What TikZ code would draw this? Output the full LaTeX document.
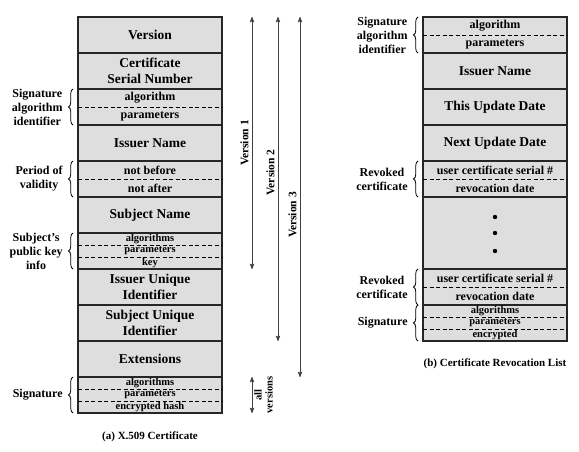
\documentclass[tikz,border=0pt]{standalone}
\usepackage{fontspec}
\setmainfont{Liberation Serif}
\usetikzlibrary{positioning, calc, arrows, decorations.pathreplacing}
\tikzset{
    field/.style={draw=black!85, line width=1.1pt, fill=black!13, minimum width=144pt, minimum height=36pt, inner sep=0pt, outer sep=0pt, align=center, font=\fontsize{13.5}{16.5}\selectfont\bfseries}, % every box of a column
    subfield/.style={inner sep=0pt, font=\fontsize{12}{13}\selectfont\bfseries},
    tinyfield/.style={inner sep=0pt, font=\fontsize{10.5}{11}\selectfont\bfseries},
    split/.style={dash pattern=on 4pt off 2.5pt, line width=0.8pt},
    curly/.style={decorate, decoration={brace, amplitude=4.5pt}, line width=0.8pt},
    bracetext/.style={left, align=center, inner sep=3pt, xshift=-7pt, font=\fontsize{12}{14}\selectfont\bfseries},
    span/.style={<->, >=stealth', line width=0.9pt, draw=black!75},
    spantext/.style={rotate=90, inner sep=3pt, font=\fontsize{11.5}{12}\selectfont\bfseries},
    caption/.style={inner sep=0pt, font=\fontsize{11}{12}\selectfont\bfseries}
}

\begin{document}
\begin{tikzpicture}[x=1pt, y=-1pt]
		\useasboundingbox (0,0) rectangle (579,452);
		
		% (a) certificate
		\node[field] (ver) at (150,35) {Version};
		\node[field, below=0pt of ver] (csn) {Certificate\\Serial Number};
		\node[field, below=0pt of csn] (sa) {};
		\node[field, below=0pt of sa] (iss) {Issuer Name};
		\node[field, below=0pt of iss] (pv) {};
		\node[field, below=0pt of pv] (subj) {Subject Name};
		\node[field, below=0pt of subj] (pk) {};
		\node[field, below=0pt of pk] (iuid) {Issuer Unique\\Identifier};
		\node[field, below=0pt of iuid] (suid) {Subject Unique\\Identifier};
		\node[field, below=0pt of suid] (ext) {Extensions};
		\node[field, below=0pt of ext] (sig) {};
		\node[caption, below=19pt of sig] (capa) {(a) X.509 Certificate};
		
		% (b) revocation list
		\node[field] (rsa) at (495,35) {};
		\node[field, below=0pt of rsa] (riss) {Issuer Name};
		\node[field, below=0pt of riss] (tud) {This Update Date};
		\node[field, below=0pt of tud] (nud) {Next Update Date};
		\node[field, below=0pt of nud] (rc1) {};
		\node[field, below=0pt of rc1, minimum height=72pt] (more) {};
		\node[field, below=0pt of more] (rc2) {};
		\node[field, below=0pt of rc2] (rsig) {};
		\node[caption, below=18pt of rsig] (capb) {(b) Certificate Revocation List};
		
		% two part boxes
		\foreach \f/\top/\bot in {sa/algorithm/parameters, pv/not before/not after, rsa/algorithm/parameters, rc1/user certificate serial \#/revocation date, rc2/user certificate serial \#/revocation date} {
			\draw[split] (\f.west) -- (\f.east);
			\node[subfield] at ($(\f.north)!.25!(\f.south)$) {\top};
			\node[subfield] at ($(\f.north)!.75!(\f.south)$) {\bot};
		}
		
		% three part boxes
		\foreach \f/\one/\two/\three in {pk/algorithms/parameters/key, sig/algorithms/parameters/encrypted hash, rsig/algorithms/parameters/encrypted} {
			\draw[split] ($(\f.north west)!1/3!(\f.south west)$) -- ($(\f.north east)!1/3!(\f.south east)$);
			\draw[split] ($(\f.north west)!2/3!(\f.south west)$) -- ($(\f.north east)!2/3!(\f.south east)$);
			\node[tinyfield] at ($(\f.north)!1/6!(\f.south)$) {\one};
			\node[tinyfield] at ($(\f.north)!3/6!(\f.south)$) {\two};
			\node[tinyfield] at ($(\f.north)!5/6!(\f.south)$) {\three};
		}
		
		% dots
		\fill (more.center) circle (2.2pt);
		\fill ($(more.center)+(0,-16)$) circle (2.2pt);
		\fill ($(more.center)+(0,18)$) circle (2.2pt);
		
		% braces
		\draw[curly] ([xshift=-5pt]sa.south west) -- ([xshift=-5pt]sa.north west) node[midway, bracetext] {Signature\\algorithm\\identifier};
		\draw[curly] ([xshift=-5pt]pv.south west) -- ([xshift=-5pt]pv.north west) node[midway, bracetext] {Period of\\validity};
		\draw[curly] ([xshift=-5pt]pk.south west) -- ([xshift=-5pt]pk.north west) node[midway, bracetext] {Subject's\\public key\\info};
		\draw[curly] ([xshift=-5pt]sig.south west) -- ([xshift=-5pt]sig.north west) node[midway, bracetext] {Signature};
		\draw[curly] ([xshift=-5pt]rsa.south west) -- ([xshift=-5pt]rsa.north west) node[midway, bracetext] {Signature\\algorithm\\identifier};
		\draw[curly] ([xshift=-5pt]rc1.south west) -- ([xshift=-5pt]rc1.north west) node[midway, bracetext] {Revoked\\certificate};
		\draw[curly] ([xshift=-5pt]rc2.south west) -- ([xshift=-5pt]rc2.north west) node[midway, bracetext] {Revoked\\certificate};
		\draw[curly] ([xshift=-5pt]rsig.south west) -- ([xshift=-5pt]rsig.north west) node[midway, bracetext] {Signature};
		
		% versions
		\coordinate (v1) at (252,0);
		\coordinate (v2) at (278,0);
		\coordinate (v3) at (300,0);
		\draw[span] (ver.north -| v1) -- (pk.south -| v1) node[spantext, pos=.5, anchor=south] {Version 1};
		\draw[span] (ver.north -| v2) -- (suid.south -| v2) node[spantext, pos=.48, anchor=south] {Version 2};
		\draw[span] (ver.north -| v3) -- (ext.south -| v3) node[spantext, pos=.55, anchor=south] {Version 3};
		\draw[span] (sig.north -| v1) -- (sig.south -| v1) node[spantext, midway, anchor=north, align=center, inner sep=2pt, font=\fontsize{10.5}{11}\selectfont\bfseries] {all\\versions};
	\end{tikzpicture}
\end{document}
